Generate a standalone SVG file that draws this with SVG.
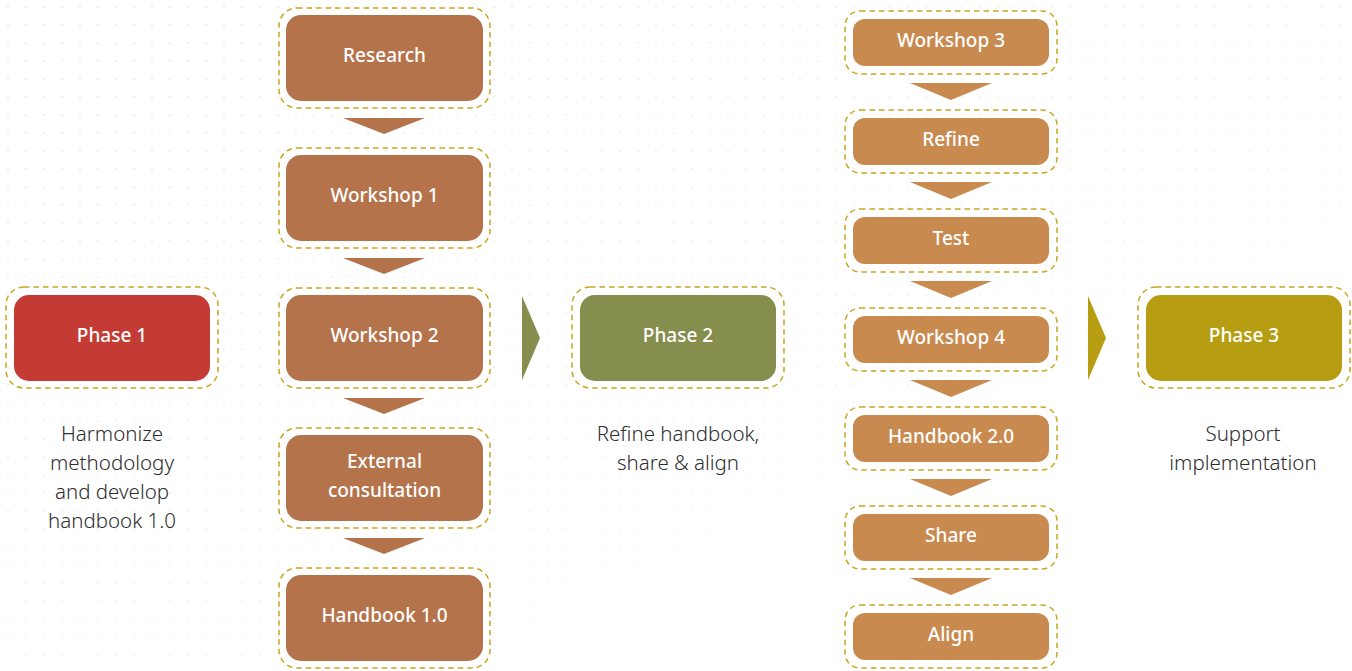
<svg xmlns="http://www.w3.org/2000/svg" width="1352" height="671" viewBox="0 0 1352 671">
<style>
.frame{fill:none;stroke:#c9a620;stroke-width:1.5;stroke-dasharray:5.5 4}
.c1{fill:#b5734b}
.c2{fill:#c98a4f}
.lbl{font-family:"Noto Sans","Open Sans","DejaVu Sans",sans-serif;font-size:19px;font-weight:500;fill:#ffffff;text-anchor:middle}
.desc{font-family:"Noto Sans","Open Sans","DejaVu Sans",sans-serif;font-size:20.5px;font-weight:300;fill:#2e2e2e;text-anchor:middle}
.a1{fill:#b5734b}
.a2{fill:#c98a4f}
</style>
<defs>
<pattern id="dots" x="0" y="0" width="18" height="18" patternUnits="userSpaceOnUse">
<circle cx="8" cy="7" r="1.3" fill="#efefef"/>
</pattern>
<linearGradient id="fade" x1="0" y1="0" x2="1" y2="1">
<stop offset="0" stop-color="#fff"/>
<stop offset="0.55" stop-color="#fff" stop-opacity="0.6"/>
<stop offset="0.8" stop-color="#fff" stop-opacity="0"/>
</linearGradient>
<mask id="m"><rect width="1352" height="671" fill="url(#fade)"/></mask>
</defs>
<rect width="1352" height="671" fill="#ffffff"/>
<rect width="1352" height="671" fill="url(#dots)" mask="url(#m)"/>

<g id="connectors">
<polygon class="a1" points="343,118 425,118 384,134"/>
<polygon class="a1" points="343,258 425,258 384,274"/>
<polygon class="a1" points="343,398 425,398 384,414"/>
<polygon class="a1" points="343,538 425,538 384,554"/>
<polygon class="a2" points="910,83 992,83 951,100"/>
<polygon class="a2" points="910,182 992,182 951,199"/>
<polygon class="a2" points="910,281 992,281 951,298"/>
<polygon class="a2" points="910,380 992,380 951,397"/>
<polygon class="a2" points="910,479 992,479 951,496"/>
<polygon class="a2" points="910,578 992,578 951,595"/>
<polygon fill="#858e4d" points="522,296 540,338 522,380"/>
<polygon fill="#b79d11" points="1088,296 1106,338 1088,380"/>
</g>

<g id="phase1">
<rect class="frame" x="6" y="287" width="212" height="101" rx="18"/>
<rect x="14" y="295" width="196" height="86" rx="15" fill="#c33b34"/>
<text class="lbl" x="112" y="342">Phase 1</text>
</g>
<g id="phase1-desc">
<text class="desc" x="112" y="441">Harmonize</text>
<text class="desc" x="112" y="470">methodology</text>
<text class="desc" x="112" y="499">and develop</text>
<text class="desc" x="112" y="528">handbook 1.0</text>
</g>

<g id="research">
<rect class="frame" x="279" y="8" width="211" height="100" rx="18"/>
<rect class="c1" x="286" y="15" width="197" height="86" rx="15"/>
<text class="lbl" x="384.5" y="62">Research</text>
</g>
<g id="workshop1">
<rect class="frame" x="279" y="148" width="211" height="100" rx="18"/>
<rect class="c1" x="286" y="155" width="197" height="86" rx="15"/>
<text class="lbl" x="384.5" y="202">Workshop 1</text>
</g>
<g id="workshop2">
<rect class="frame" x="279" y="288" width="211" height="100" rx="18"/>
<rect class="c1" x="286" y="295" width="197" height="86" rx="15"/>
<text class="lbl" x="384.5" y="342">Workshop 2</text>
</g>
<g id="external">
<rect class="frame" x="279" y="428" width="211" height="100" rx="18"/>
<rect class="c1" x="286" y="435" width="197" height="86" rx="15"/>
<text class="lbl" x="384.5" y="468">External</text>
<text class="lbl" x="384.5" y="497">consultation</text>
</g>
<g id="handbook1">
<rect class="frame" x="279" y="568" width="211" height="100" rx="18"/>
<rect class="c1" x="286" y="575" width="197" height="86" rx="15"/>
<text class="lbl" x="384.5" y="622">Handbook 1.0</text>
</g>

<g id="phase2">
<rect class="frame" x="572" y="287" width="212" height="101" rx="18"/>
<rect x="580" y="295" width="196" height="86" rx="15" fill="#858e4d"/>
<text class="lbl" x="678" y="342">Phase 2</text>
</g>
<g id="phase2-desc">
<text class="desc" x="678" y="441">Refine handbook,</text>
<text class="desc" x="678" y="470">share &amp; align</text>
</g>

<g id="workshop3">
<rect class="frame" x="845" y="11" width="212" height="63" rx="15"/>
<rect class="c2" x="853" y="19" width="196" height="47" rx="12"/>
<text class="lbl" x="951" y="47">Workshop 3</text>
</g>
<g id="refine">
<rect class="frame" x="845" y="110" width="212" height="63" rx="15"/>
<rect class="c2" x="853" y="118" width="196" height="47" rx="12"/>
<text class="lbl" x="951" y="146">Refine</text>
</g>
<g id="test">
<rect class="frame" x="845" y="209" width="212" height="63" rx="15"/>
<rect class="c2" x="853" y="217" width="196" height="47" rx="12"/>
<text class="lbl" x="951" y="245">Test</text>
</g>
<g id="workshop4">
<rect class="frame" x="845" y="308" width="212" height="63" rx="15"/>
<rect class="c2" x="853" y="316" width="196" height="47" rx="12"/>
<text class="lbl" x="951" y="344">Workshop 4</text>
</g>
<g id="handbook2">
<rect class="frame" x="845" y="407" width="212" height="63" rx="15"/>
<rect class="c2" x="853" y="415" width="196" height="47" rx="12"/>
<text class="lbl" x="951" y="443">Handbook 2.0</text>
</g>
<g id="share">
<rect class="frame" x="845" y="506" width="212" height="63" rx="15"/>
<rect class="c2" x="853" y="514" width="196" height="47" rx="12"/>
<text class="lbl" x="951" y="542">Share</text>
</g>
<g id="align">
<rect class="frame" x="845" y="605" width="212" height="63" rx="15"/>
<rect class="c2" x="853" y="613" width="196" height="47" rx="12"/>
<text class="lbl" x="951" y="641">Align</text>
</g>

<g id="phase3">
<rect class="frame" x="1138" y="287" width="212" height="101" rx="18"/>
<rect x="1146" y="295" width="196" height="86" rx="15" fill="#b79d11"/>
<text class="lbl" x="1244" y="342">Phase 3</text>
</g>
<g id="phase3-desc">
<text class="desc" x="1243" y="441">Support</text>
<text class="desc" x="1243" y="470">implementation</text>
</g>
</svg>
